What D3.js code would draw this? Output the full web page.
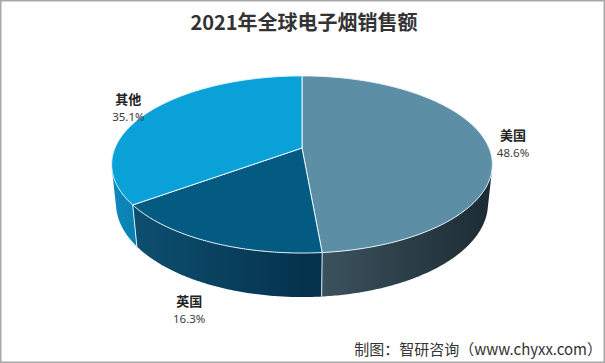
<!DOCTYPE html>
<html>
<head>
<meta charset="utf-8">
<script src="https://cdn.jsdelivr.net/npm/d3@7"></script>
<style>
  html, body { margin: 0; padding: 0; background: #fff; }
  svg { display: block; }
</style>
</head>
<body>
<div id="chart"></div>
<script>
// Chart data
const categories = ["美国", "英国", "其他"];
const shares = [48.6, 16.3, 35.1];
const topColors = ["#5c8ea6", "#035b82", "#0aa0d8"];
const wallColors = [["#3b525e", "#1c2b33"], ["#0d4f70", "#04304a"], ["#0d8abf", "#0a7eb0"]];
const title = "2021年全球电子烟销售额";
const source = "制图：智研咨询（www.chyxx.com）";

const width = 605;
const height = 363;

const svg = d3.select("#chart")
    .append("svg")
    .attr("width", width)
    .attr("height", height);

// border of the picture
svg.append("rect")
    .attr("x", 0.75).attr("y", 0.75)
    .attr("width", width - 1.5).attr("height", height - 1.5)
    .attr("fill", "#fff")
    .attr("stroke", "#a8a8a8")
    .attr("stroke-width", 1.5);

svg.append("text")
    .attr("x", 304)
    .attr("y", 30)
    .attr("text-anchor", "middle")
    .attr("font-family", "'Noto Sans CJK SC', sans-serif")
    .attr("font-weight", "bold")
    .attr("font-size", 20)
    .attr("fill", "#333")
    .text(title);

svg.append("text")
    .attr("x", 602)
    .attr("y", 355)
    .attr("text-anchor", "end")
    .attr("font-family", "'Noto Sans CJK SC', sans-serif")
    .attr("font-size", 15)
    .attr("fill", "#333")
    .text(source);

// 3D perspective camera for the pie
const cx = 302, cy = 148;
const phi = 27.2 * Math.PI / 180;   // elevation
const camDist = 4.78;               // in pie radii
const focal = 894;
const thick = 0.2356;               // wall height in pie radii

function project(theta, r, level) {
    // level 0 = top face, 1 = bottom face
    const yw = -thick * level;
    const d = -yw * Math.sin(phi) + camDist + r * Math.cos(phi) * Math.cos(theta);
    const up = yw * Math.cos(phi) + r * Math.sin(phi) * Math.cos(theta);
    return [cx + focal * r * Math.sin(theta) / d, cy - focal * up / d];
}

function arcPoints(a0, a1, r, level) {
    const n = Math.max(2, Math.ceil(Math.abs(a1 - a0) / 0.01));
    return d3.range(n + 1).map(i => project(a0 + (a1 - a0) * i / n, r, level));
}

const pie = d3.pie().sort(null).startAngle(0).endAngle(2 * Math.PI);
const arcs = pie(shares);
const line = d3.line();

const defs = svg.append("defs");

// visible part of the wall
const visLo = Math.acos(-1 / (camDist * Math.cos(phi)));
const visHi = 2 * Math.PI - visLo;

const wallG = svg.append("g");
arcs.forEach((a, i) => {
    const s = Math.max(a.startAngle, visLo);
    const e = Math.min(a.endAngle, visHi);
    if (e <= s) return;
    const pts = arcPoints(s, e, 1, 0).concat(arcPoints(e, s, 1, 1));
    const xs = pts.map(p => p[0]);
    const grad = defs.append("linearGradient")
        .attr("id", "wall" + i)
        .attr("gradientUnits", "userSpaceOnUse")
        .attr("x1", d3.min(xs)).attr("x2", d3.max(xs))
        .attr("y1", 0).attr("y2", 0);
    grad.append("stop").attr("offset", 0).attr("stop-color", wallColors[i][0]);
    grad.append("stop").attr("offset", 1).attr("stop-color", wallColors[i][1]);
    wallG.append("path")
        .attr("d", line(pts) + "Z")
        .attr("fill", `url(#wall${i})`);
});

// seams between walls
arcs.forEach(a => {
    const t = a.startAngle;
    if (t < visLo || t > visHi) return;
    wallG.append("path")
        .attr("d", line([project(t, 1, 0), project(t, 1, 1)]))
        .attr("stroke", "#d8eef8")
        .attr("stroke-width", 1);
});

// top face
const topG = svg.append("g");
arcs.forEach((a, i) => {
    const pts = [project(0, 0, 0)].concat(arcPoints(a.startAngle, a.endAngle, 1, 0));
    topG.append("path")
        .attr("d", line(pts) + "Z")
        .attr("fill", topColors[i])
        .attr("stroke", "#e6f4fb")
        .attr("stroke-width", 1)
        .attr("stroke-linejoin", "round");
});

// labels
const labelG = svg.append("g");
arcs.forEach((a, i) => {
    const mid = (a.startAngle + a.endAngle) / 2;
    const front = Math.cos(mid) < -0.5;
    const p = front ? project(mid, 1.2, 1) : project(mid, 1.14, 0);
    labelG.append("text")
        .attr("x", p[0]).attr("y", p[1] - 4)
        .attr("text-anchor", "middle")
        .attr("font-family", "'Noto Sans CJK SC', sans-serif")
        .attr("font-weight", "bold")
        .attr("font-size", 13)
        .attr("fill", "#222")
        .text(categories[i]);
    labelG.append("text")
        .attr("x", p[0]).attr("y", p[1] + 13)
        .attr("text-anchor", "middle")
        .attr("font-family", "'Noto Sans', sans-serif")
        .attr("font-size", 11.5)
        .attr("fill", "#3a3a3a")
        .text(d3.format(".1f")(a.data) + "%");
});
</script>
</body>
</html>
